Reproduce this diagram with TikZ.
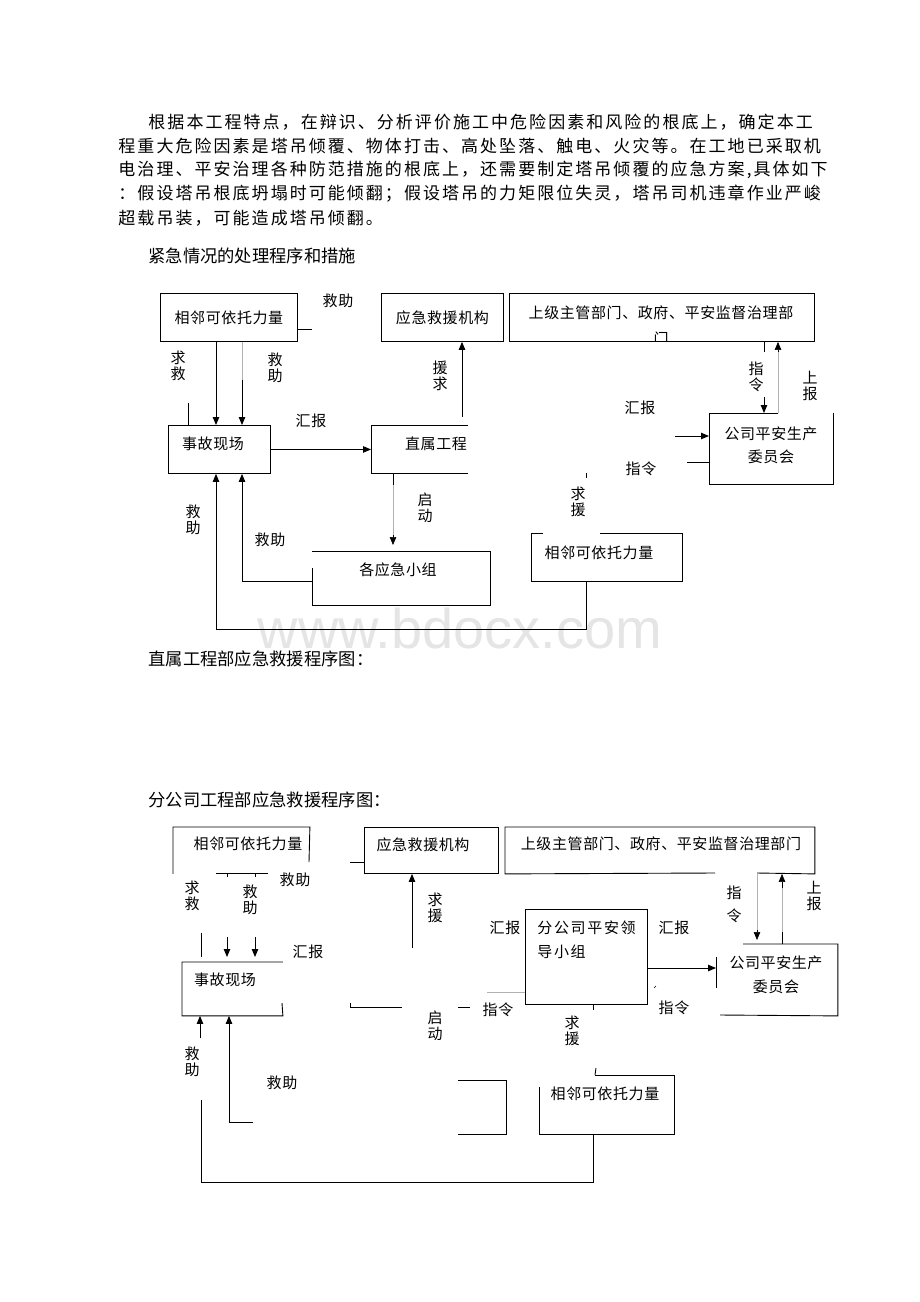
\documentclass[tikz,border=0pt]{standalone}
\usepackage{fontspec}
\setmainfont{Liberation Serif}
\newfontfamily\cjk{Noto Sans CJK SC}
\newfontfamily\cjkp[LetterSpace=12]{Noto Sans CJK SC}
\newfontfamily\cjkd[LetterSpace=4]{Noto Sans CJK SC}
\newfontfamily\cjkw[LetterSpace=11]{Noto Sans CJK SC}
\newfontfamily\wmfont{Liberation Sans}
\usetikzlibrary{arrows.meta}
\begin{document}
\begin{tikzpicture}[x=1pt,y=-1pt,line width=0.9pt,
  box/.style={draw,rectangle,inner sep=0pt,anchor=north west,font=\cjkd\fontsize{15}{17}\selectfont},
  nobox/.style={rectangle,inner sep=0pt,anchor=north west},
  lab/.style={inner sep=0pt,font=\cjkd\fontsize{15}{17}\selectfont},
  vlab/.style={inner sep=0pt,align=center,font=\cjk\fontsize{15}{16.5}\selectfont},
  arr/.style={-{Triangle[length=8pt,width=6.5pt]}},
  faint/.style={draw=black!30,line width=0.6pt},
  para/.style={inner sep=0pt,anchor=west,font=\cjkp\fontsize{17}{24}\selectfont},
  head/.style={inner sep=0pt,anchor=west,font=\cjk\fontsize{17.3}{24}\selectfont}]
\useasboundingbox[fill=white] (0,0) rectangle (920,1302);

% watermark
\node[inner sep=0pt,text=black!10,font=\wmfont\fontsize{56}{60}\selectfont] (wm) at (460,628) {www.bdocx.com};

% text
\node[para] (p1) at (148,122) {根据本工程特点，在辩识、分析评价施工中危险因素和风险的根底上，确定本工};
\node[para] (p2) at (118,146) {程重大危险因素是塔吊倾覆、物体打击、高处坠落、触电、火灾等。在工地已采取机};
\node[para] (p3) at (118,170) {电治理、平安治理各种防范措施的根底上，还需要制定塔吊倾覆的应急方案,具体如下};
\node[para] (p4) at (118,194) {：假设塔吊根底坍塌时可能倾翻；假设塔吊的力矩限位失灵，塔吊司机违章作业严峻};
\node[para] (p5) at (118,218) {超载吊装，可能造成塔吊倾翻。};
\node[head] (h1t) at (148,256) {紧急情况的处理程序和措施};
\node[head] (h2t) at (148,659) {直属工程部应急救援程序图：};
\node[head] (h3t) at (148,800) {分公司工程部应急救援程序图：};

% ================= diagram 1 =================
\node[box,minimum width=137,minimum height=48] (a1) at (160,293) {相邻可依托力量};
\node[box,minimum width=122,minimum height=48] (b1) at (381,293) {应急救援机构};
\node[box,minimum width=305,minimum height=48] (c1) at (509,293) {};
\node[lab] (c1t) at (661,313) {上级主管部门、政府、平安监督治理部};
\begin{scope}
  \clip (509,293) rectangle (814,340);
  \node[lab] (c1u) at (661,339) {门};
\end{scope}
\node[nobox,minimum width=124,minimum height=71] (d1) at (709,413) {};
\node[lab] (d1t) at (771,434) {公司平安生产};
\node[lab] (d1u) at (771,457) {委员会};
\draw (778,413) -- (d1.north west) -- (d1.south west) -- (d1.south east) -- (d1.north east);
\node[box,minimum width=102,minimum height=48] (e1) at (168,425) {};
\node[lab] (e1t) at (213,444) {事故现场};
\node[nobox,minimum width=96,minimum height=48] (f1) at (371,425) {};
\node[lab] (f1t) at (436,444) {直属工程};
\draw (f1.north east) -- (f1.north west) -- (f1.south west) -- (f1.south east);
\node[nobox,minimum width=178,minimum height=54] (g1) at (312,551) {};
\node[lab] (g1t) at (398,570) {各应急小组};
\draw (312,568) -- (g1.south west) -- (g1.south east) -- (g1.north east) -- (g1.north west);
\node[nobox,minimum width=151,minimum height=48] (h1) at (531,533) {};
\node[lab] (h1t) at (599,553) {相邻可依托力量};
\draw (543,533) -- (h1.north west) -- (h1.south west) -- (h1.south east) -- (h1.north east) -- (600,533);

\coordinate (x188) at (188,0); \coordinate (x216) at (216,0);
\coordinate (x242) at (242,0); \coordinate (x393) at (393,0);
\coordinate (x462) at (462,0); \coordinate (x586) at (586,0);
\coordinate (x764) at (764,0); \coordinate (x778) at (778,0);

\draw ([yshift=-12pt]a1.east) -- ++(14,0);
\draw[arr] (a1.south -| x216) -- (e1.north -| x216);
\draw[faint] (a1.south -| x242) -- (242,382);
\draw[arr] (242,380) -- (e1.north -| x242);
\draw (188,403) -- (e1.north -| x188);
\draw[arr] (e1.east) -- (f1.west);
\draw[arr] (462,417) -- (b1.south -| x462);
\draw (f1.south -| x393) -- (393,485);
\draw[faint] (393,485) -- (393,536);
\draw[arr,line width=0.6pt] (393,535) -- (393,545);
\draw[arr] (g1.west |- 0,581) -- (242,581) -- (e1.south -| x242);
\draw[arr] (h1.south -| x586) -- (586,629) -- (216,629) -- (e1.south -| x216);
\draw (586,473) -- (586,478);
\draw (c1.south -| x764) -- (764,352);
\draw[arr] (764,397) -- (d1.north -| x764);
\draw[faint] (d1.north -| x778) -- (778,352);
\draw[arr,line width=0.6pt] (778,352) -- (c1.south -| x778);
\draw[arr] (675,436) -- (d1.west |- 0,436);
\draw (687,462) -- (d1.west |- 0,462);

\node[lab] (l1) at (338,301) {救助};
\node[vlab] (l2) at (178,366) {求\\救};
\node[vlab] (l3) at (275,368) {救\\助};
\node[lab] (l4) at (311,421) {汇报};
\node[vlab] (l5) at (440,376) {援\\求};
\node[vlab] (l6) at (756,377) {指\\令};
\node[vlab] (l7) at (810,386) {上\\报};
\node[lab] (l8) at (640,408) {汇报};
\node[lab] (l9) at (641,469) {指令};
\node[vlab] (l10) at (578,502) {求\\援};
\node[vlab] (l11) at (425,508) {启\\动};
\node[vlab] (l12) at (193,520) {救\\助};
\node[lab] (l13) at (270,540) {救助};

% ================= diagram 2 =================
\node[nobox,minimum width=136,minimum height=46] (a2) at (173,827) {};
\node[lab] (a2t) at (248,844) {相邻可依托力量};
\draw (216,873) -- (268,873);
\draw (a2.south west) -- (a2.north west) -- (a2.north east) -- (309,862);
\draw (227,873) -- (227,877); \draw (255,873) -- (255,877);
\node[box,minimum width=134,minimum height=46] (b2) at (364,827) {};
\node[lab] (b2t) at (423,845) {应急救援机构};
\draw (350,862) -- (b2.west |- 0,862);
\node[nobox,minimum width=309,minimum height=46] (c2) at (505,827) {};
\node[lab] (c2t) at (661,844) {上级主管部门、政府、平安监督治理部门};
\draw (715,873) -- (c2.south west) -- (c2.north west) -- (c2.north east) -- (c2.south east) -- (757,873);
\node[nobox,minimum width=121,minimum height=71] (d2) at (716,944) {};
\node[lab] (d2t) at (776,963) {公司平安生产};
\node[lab] (d2u) at (776,987) {委员会};
\draw (743,944) -- (d2.north east) -- (d2.south east) -- (720,1015);
\draw (716,957) -- (716,988);
\node[nobox,minimum width=100,minimum height=53] (e2) at (182,962) {};
\node[lab] (e2t) at (225,980) {事故现场};
\draw (282,1003) -- (e2.south east) -- (e2.south west) -- (e2.north west) -- (e2.north east);
\node[box,minimum width=122,minimum height=95] (i2) at (525,909) {};
\node[lab,anchor=west,font=\cjkw\fontsize{15}{17}\selectfont] (i2t) at (537,928) {分公司平安领};
\node[lab,anchor=west,font=\cjkw\fontsize{15}{17}\selectfont] (i2u) at (537,952) {导小组};
\node[nobox,minimum width=135,minimum height=59] (h2) at (539,1075) {};
\node[lab] (h2t) at (605,1094) {相邻可依托力量};
\draw (595,1075) -- (h2.north east) -- (h2.south east) -- (h2.south west) -- (539,1087);
\draw (596,1068) -- (595,1075);
\node[nobox,minimum width=48,minimum height=54] (g2) at (458,1080) {};
\draw (g2.north west) -- (g2.north east) -- (g2.south east) -- (g2.south west);

\coordinate (x200) at (200,0); \coordinate (x229) at (229,0);
\coordinate (x412) at (412,0); \coordinate (x593) at (593,0);
\coordinate (x757) at (757,0); \coordinate (x782) at (782,0);

\draw (201,933) -- (201,957);
\draw[arr] (227,937) -- (227,957);
\draw[arr] (255,937) -- (255,957);
\draw[arr] (412,948) -- (b2.south -| x412);
\draw[faint] (c2.south -| x757) -- (757,932);
\draw[arr,line width=0.6pt] (757,930) -- (757,940);
\draw (782,944) -- (782,932);
\draw[faint] (782,932) -- (782,886);
\draw[arr,line width=0.6pt] (782,888) -- (c2.south -| x782);
\draw[arr] (i2.east |- 0,968) -- (d2.west |- 0,968);
\draw[faint] (487,992) -- (i2.west |- 0,992);
\draw[line width=0.6pt] (654,988) -- (656,986);
\draw (350,1003) -- (350,1007) -- (402,1007);
\draw (458,1007) -- (470,1007);
\draw (i2.south -| x593) -- (593,1010);
\draw[arr] (200,1038) -- (e2.south -| x200);
\draw (201,1100) -- (201,1182) -- (593,1182) -- (h2.south -| x593);
\draw[arr] (253,1122) -- (229,1122) -- (e2.south -| x229);

\node[lab] (m1) at (295,880) {救助};
\node[vlab] (m2) at (192,896) {求\\救};
\node[vlab] (m3) at (250,900) {救\\助};
\node[lab] (m4) at (308,952) {汇报};
\node[vlab] (m5) at (435,908) {求\\援};
\node[lab] (m6) at (505,928) {汇报};
\node[lab] (m7) at (674,928) {汇报};
\node[vlab,font=\cjk\fontsize{15}{23}\selectfont] (m8) at (734,904) {指\\令};
\node[vlab] (m9) at (814,896) {上\\报};
\node[lab] (m10) at (498,1010) {指令};
\node[lab] (m11) at (674,1008) {指令};
\node[vlab] (m12) at (435,1026) {启\\动};
\node[vlab] (m13) at (572,1031) {求\\援};
\node[vlab] (m14) at (192,1062) {救\\助};
\node[lab] (m15) at (282,1083) {救助};
\end{tikzpicture}
\end{document}
